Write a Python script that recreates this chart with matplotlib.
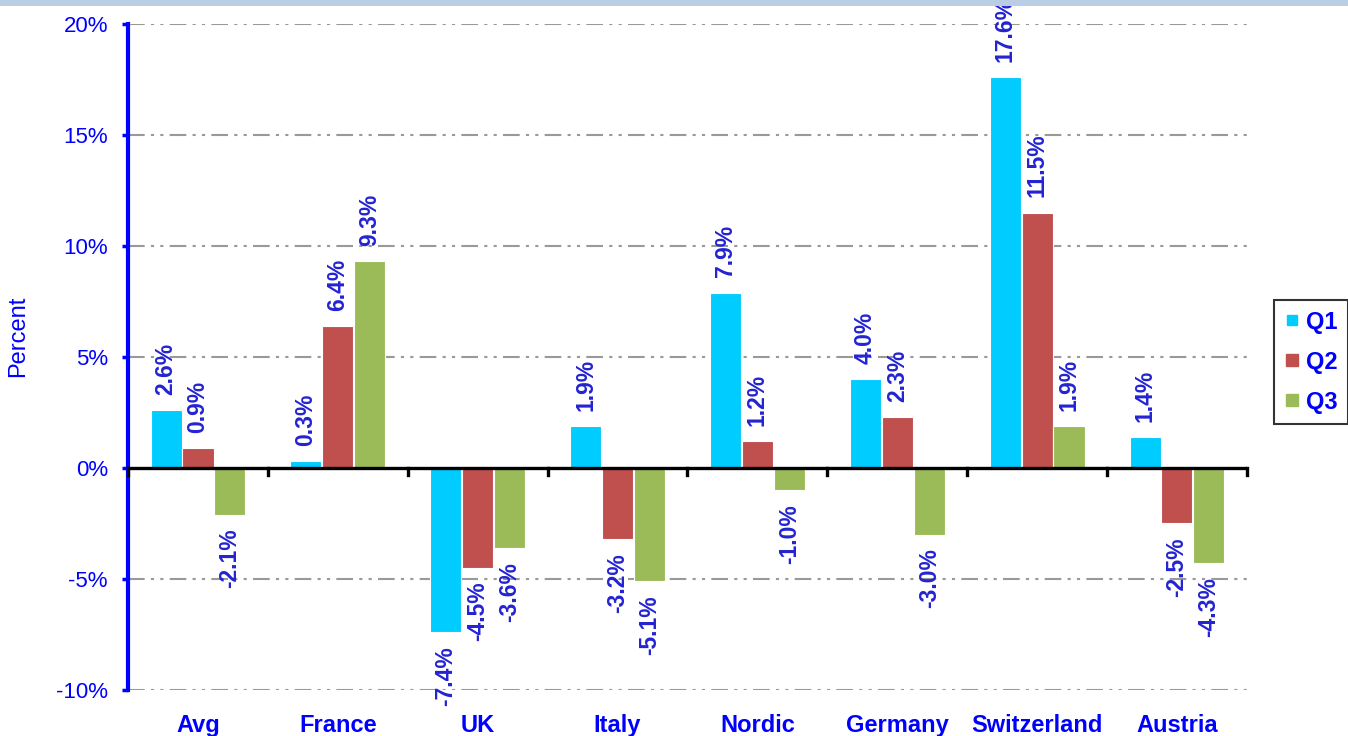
import matplotlib
matplotlib.use("Agg")
import matplotlib.pyplot as plt
import numpy as np
from matplotlib.patches import Rectangle
from matplotlib.lines import Line2D

plt.rcParams['font.family'] = ['Liberation Sans', 'DejaVu Sans']

categories = ["Avg", "France", "UK", "Italy", "Nordic", "Germany", "Switzerland", "Austria"]
series_names = ["Q1", "Q2", "Q3"]
q1 = [2.6, 0.3, -7.4, 1.9, 7.9, 4.0, 17.6, 1.4]
q2 = [0.9, 6.4, -4.5, -3.2, 1.2, 2.3, 11.5, -2.5]
q3 = [-2.1, 9.3, -3.6, -5.1, -1.0, -3.0, 1.9, -4.3]
yticks = [-10, -5, 0, 5, 10, 15, 20]

colors = ["#00CCFF", "#C0504D", "#9BBB59"]
blue = "#0000FF"
label_blue = "#2323D2"

fig = plt.figure(figsize=(13.48, 7.36), dpi=100)
fig.add_artist(Rectangle((0, 0.992), 1, 0.008, transform=fig.transFigure,
                         facecolor="#B9CDE5", edgecolor="none", zorder=10))
ax = fig.add_axes([0.095, 0.0625, 0.83, 0.905])

x = np.arange(len(categories))
width = 0.222
offsets = [-0.228, 0.0, 0.228]
for vals, off, col in zip([q1, q2, q3], offsets, colors):
    bars = ax.bar(x + off, vals, width=width, color=col, edgecolor="white",
                  linewidth=0.8, zorder=3)
    for b, v in zip(bars, vals):
        cx = b.get_x() + b.get_width() / 2
        if v >= 0:
            ax.annotate(f"{v:.1f}%", (cx, v), xytext=(0, 11), textcoords="offset points",
                        rotation=90, ha="center", va="bottom", color=label_blue,
                        fontsize=16.5, fontweight="bold", annotation_clip=False)
        else:
            ax.annotate(f"{v:.1f}%", (cx, v), xytext=(0, -10), textcoords="offset points",
                        rotation=90, ha="center", va="top", color=label_blue,
                        fontsize=16.5, fontweight="bold", annotation_clip=False)

ax.set_xlim(-0.5, len(categories) - 0.5)
ax.set_ylim(-10, 20)
ax.set_yticks(yticks)
ax.set_yticklabels([f"{t}%" for t in yticks], color=blue, fontsize=16)
ax.tick_params(axis="y", direction="out", length=4, width=2.5, color=blue, pad=10.5)

for t in yticks:
    if t != 0:
        ax.axhline(t, color="#999999", linewidth=1.5, dashes=(8, 3, 1.5, 3, 1.5, 3), zorder=1)

for s in ["top", "right", "bottom"]:
    ax.spines[s].set_visible(False)
ax.spines["left"].set_color(blue)
ax.spines["left"].set_linewidth(3)

ax.axhline(0, color="black", linewidth=2.4, zorder=4)
ax.set_xticks([])
for b in np.arange(-0.5, len(categories) + 0.5, 1.0):
    ax.plot([b, b], [0, -0.3], color="black", linewidth=2.4, zorder=4, clip_on=False)

for xi, c in zip(x, categories):
    ax.annotate(c, (xi, -10), xytext=(0, -17), textcoords="offset points",
                ha="center", va="top", color=blue, fontsize=17,
                fontweight="bold", annotation_clip=False)

fig.text(0.0135, 0.543, "Percent", rotation=90, ha="center", va="center",
         color=blue, fontsize=17)

msizes = [6.5, 8.5, 8.5]
handles = [Line2D([], [], marker="s", linestyle="none", markersize=ms,
                  markerfacecolor=c, markeredgecolor=c) for c, ms in zip(colors, msizes)]
leg = fig.legend(handles, series_names, loc="center", bbox_to_anchor=(0.9725, 0.508),
                 frameon=True, fancybox=False, edgecolor="black", handlelength=0.6,
                 handletextpad=0.3, labelspacing=0.72, borderpad=0.45,
                 borderaxespad=0, prop={"weight": "bold", "size": 17})
leg.get_frame().set_linewidth(1.5)
for t in leg.get_texts():
    t.set_color(blue)

fig.savefig("out.png", dpi=100)
